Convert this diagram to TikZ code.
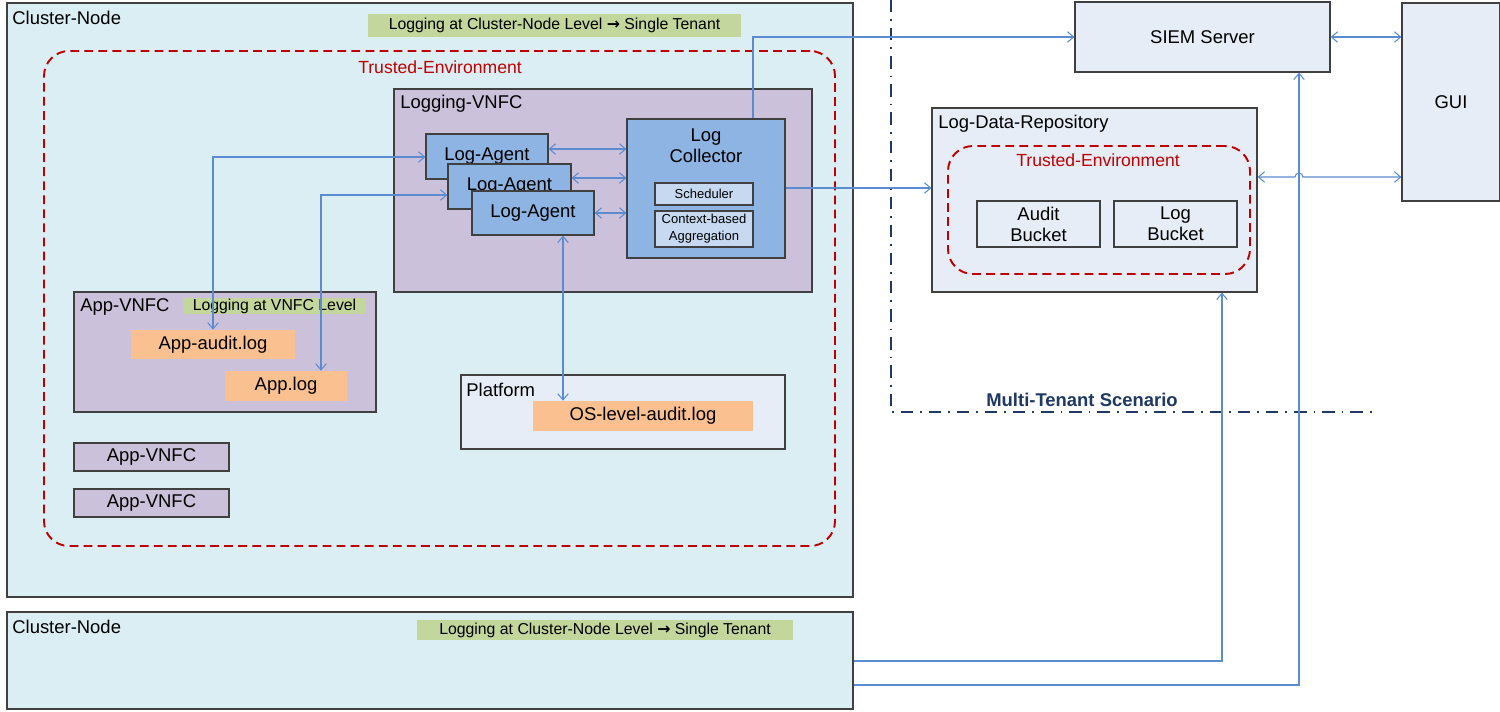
\documentclass[tikz,border=0pt]{standalone}
\usepackage{fontspec}
\setmainfont{Liberation Sans}
\newfontfamily\arrowfont{DejaVu Sans}
\usetikzlibrary{positioning,fit,arrows.meta}
\definecolor{clusterblue}{HTML}{DAEEF3}
\definecolor{vnfcpurple}{HTML}{CCC1DA}
\definecolor{agentblue}{HTML}{8DB4E2}
\definecolor{subblue}{HTML}{C6D9F1}
\definecolor{paleblue}{HTML}{E6EDF7}
\definecolor{logorange}{HTML}{FAC090}
\definecolor{notegreen}{HTML}{C3D69B}
\definecolor{trustred}{HTML}{C00000}
\definecolor{linkblue}{HTML}{5B8BD0}
\definecolor{tenantnavy}{HTML}{1F3864}
\definecolor{boxline}{HTML}{404040}
\newcommand\mainsize{\fontsize{10.5}{12}\selectfont}
\newcommand\notesize{\fontsize{9}{11}\selectfont}
\newcommand\smallsize{\fontsize{7.4}{9.7}\selectfont}

\begin{document}
\begin{tikzpicture}[x=0.02cm,y=-0.02cm,
    every fit/.style={inner sep=0pt},
    every label/.style={font=\mainsize,align=center,inner sep=0pt},
    box/.style={draw=boxline,line width=0.7pt,inner sep=0pt},
    cluster/.style={box,fill=clusterblue},
    vnfc/.style={box,fill=vnfcpurple},
    agent/.style={box,fill=agentblue},
    subbox/.style={box,fill=subblue},
    pale/.style={box,fill=paleblue},
    logfile/.style={fill=logorange,inner sep=0pt},
    note/.style={fill=notegreen,inner sep=0pt},
    trusted/.style={draw=trustred,dash pattern=on 5pt off 3pt,line width=1.1pt,rounded corners=0.5cm},
    title/.style={anchor=west,inner sep=0pt,font=\mainsize},
    link/.style={draw=linkblue,line width=0.6pt},
    >={Straight Barb[length=3.5pt,width=6pt]}]
\useasboundingbox[fill=white] (0,0) rectangle (1500,711);
    % cluster node with the logging VNFC
    \node[cluster,fit={(7,3) (853,597)}] (cn1) {};
    \node[title] (cn1label) at (12,18) {Cluster-Node};
    \node[note,fit={(368,14) (741,37)},label={[font=\notesize]center:Logging at Cluster-Node Level {\arrowfont\bfseries →} Single Tenant}] (cn1note) {};
    \node[trusted,fit={(44,51) (835,546)}] (trust1) {};
    \node[font=\fontsize{10}{12}\selectfont,text=trustred,inner sep=0pt] (trust1label) at (440,67) {Trusted-Environment};
    \node[vnfc,fit={(394,89) (812,292)}] (logvnfc) {};
    \node[title] (logvnfclabel) at (400,104) {Logging-VNFC};
    \node[agent,fit={(426,134) (548,179)},label=center:Log-Agent] (la1) {};
    \node[agent,fit={(448,164) (571,209)},label=center:Log-Agent] (la2) {};
    \node[agent,fit={(472,191) (594,235)},label=center:Log-Agent] (la3) {};
    \node[agent,fit={(627,119) (785,258)}] (lc) {};
    \node[font=\mainsize,align=center,inner sep=0pt] (lclabel) at (706,146) {Log\\Collector};
    \node[subbox,fit={(655,183) (753,205)},label={[font=\smallsize]center:Scheduler}] (sched) {};
    \node[subbox,fit={(655,211) (753,247)},label={[font=\smallsize]center:Context-based\\Aggregation}] (aggr) {};
    % application VNFCs
    \node[vnfc,fit={(74,292) (376,412)}] (appvnfc) {};
    \node[title] (appvnfclabel) at (80,307) {App-VNFC};
    \node[note,fit={(183,298) (366,314)},label={[font=\notesize]center:Logging at VNFC Level}] (appnote) {};
    \node[logfile,fit={(131,330) (295,359)},label=center:App-audit.log] (auditlog) {};
    \node[logfile,fit={(225,371) (347,401)},label=center:App.log] (applog) {};
    \node[vnfc,fit={(74,443) (229,471)},label=center:App-VNFC] (appvnfc2) {};
    \node[vnfc,fit={(74,489) (229,517)},label=center:App-VNFC] (appvnfc3) {};
    \node[pale,fit={(461,375) (785,449)}] (platform) {};
    \node[title] (platformlabel) at (466,390) {Platform};
    \node[logfile,fit={(533,401) (753,431)},label=center:OS-level-audit.log] (oslog) {};
    % second cluster node
    \node[cluster,fit={(7,612) (853,709)}] (cn2) {};
    \node[title] (cn2label) at (12,627) {Cluster-Node};
    \node[note,fit={(417,620) (793,640)},label={[font=\notesize]center:Logging at Cluster-Node Level {\arrowfont\bfseries →} Single Tenant}] (cn2note) {};
    % multi tenant side
    \node[pale,fit={(1075,2) (1330,72)},label=center:SIEM Server] (siem) {};
    \node[pale,fit={(1402,3) (1500,201)},label=center:GUI] (gui) {};
    \node[pale,fit={(932,108) (1257,292)}] (repo) {};
    \node[title] (repolabel) at (938,124) {Log-Data-Repository};
    \node[trusted,fit={(948,146) (1250,274)}] (trust2) {};
    \node[font=\fontsize{10}{12}\selectfont,text=trustred,inner sep=0pt] (trust2label) at (1098,160) {Trusted-Environment};
    \node[pale,fit={(977,201) (1100,247)},label=center:Audit\\Bucket] (auditbucket) {};
    \node[pale,fit={(1114,201) (1237,247)},label=center:Log\\Bucket] (logbucket) {};
    \coordinate (tenanttop) at (891,0);
    \coordinate (tenantend) at (1377,412);
    \draw[tenantnavy,line width=1.3pt,dash pattern=on 7pt off 4pt on 1pt off 4pt] (tenanttop) |- (tenantend);
    \node[font=\mainsize\bfseries,text=tenantnavy,inner sep=0pt] (tenantlabel) at (1082,400) {Multi-Tenant Scenario};
    % connectors
    \draw[link,<->] (la1.east |- 0,149) -- (lc.west |- 0,149);
    \draw[link,<->] (la2.east |- 0,178) -- (lc.west |- 0,178);
    \draw[link,<->] (la3.east |- 0,213) -- (lc.west |- 0,213);
    \draw[link,<->] (la1.west |- 0,157) -| (auditlog.north);
    \draw[link,<->] (la2.west |- 0,195) -| (applog.north -| 321,0);
    \draw[link,<->] (la3.south -| 563,0) -- (oslog.north -| 563,0);
    \draw[link,->] (lc.north -| 753,0) |- (siem.west);
    \draw[link,->] (lc.east |- 0,188) -- (repo.west |- 0,188);
    \draw[link,<->] (siem.east) -- (gui.west |- siem.east);
    \draw[link,<->] (repo.east |- 0,177) -- (1295,177) arc[start angle=180,end angle=0,radius=0.08cm] -- (gui.west |- 0,177);
    \draw[link,->] (cn2.east |- 0,661) -| (repo.south -| 1222,0);
    \draw[link,->] (cn2.east |- 0,685) -| (siem.south -| 1299,0);
\end{tikzpicture}
\end{document}
